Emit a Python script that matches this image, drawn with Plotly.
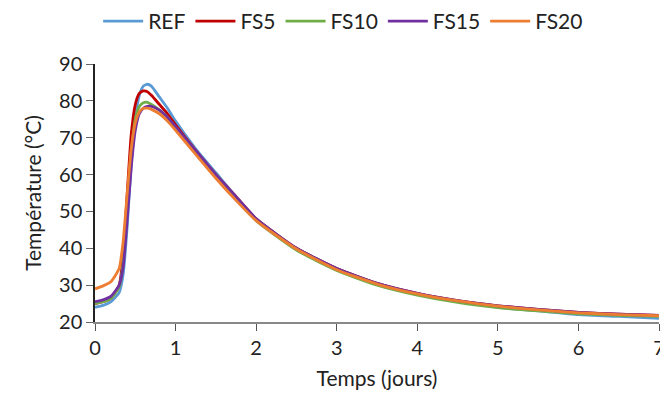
import plotly.graph_objects as go

# temps (jours)
temps = [0, 0.1, 0.2, 0.3, 0.35, 0.4, 0.45, 0.5, 0.55, 0.6, 0.65, 0.7, 0.8, 0.9, 1.0,
         1.25, 1.5, 1.75, 2, 2.5, 3, 3.5, 4, 4.5, 5, 5.5, 6, 6.5, 7]

ref = [24, 24.5, 25.5, 28, 33, 46, 63, 75, 81.5, 84, 84.5, 84, 81, 78, 74.5,
       67, 60.5, 54, 48, 40, 34.5, 30.5, 27.5, 25.5, 24, 23, 22, 21.5, 21]
fs5 = [25, 25.5, 26.5, 30, 38, 55, 71, 79, 82, 82.7, 82.5, 81.5, 79, 76.5, 73.5,
       66.5, 60, 54, 48, 40, 34.5, 30.5, 27.8, 25.8, 24.4, 23.4, 22.6, 22.1, 21.8]
fs10 = [25, 25.5, 26.5, 29.5, 36, 51, 66, 75, 78.5, 79.5, 79.6, 79, 77.5, 75.5, 72.5,
        66, 59.5, 53.5, 47.5, 39.5, 34, 30, 27.3, 25.3, 23.9, 23, 22.2, 21.8, 21.5]
fs15 = [25.5, 26, 27, 30, 35, 48, 62, 72, 76.5, 78, 78.5, 78.5, 77.5, 75.5, 73,
        66.5, 60, 54, 48, 40, 34.5, 30.5, 27.8, 25.8, 24.4, 23.4, 22.6, 22.1, 21.8]
fs20 = [29, 29.8, 31, 34.5, 42, 55, 67, 74, 77, 78, 78, 77.7, 76.5, 74.5, 72,
        65.5, 59, 53, 47.5, 39.8, 34.2, 30.3, 27.6, 25.7, 24.3, 23.3, 22.5, 22, 21.7]

series = [("REF", ref, "#5B9BD5"), ("FS5", fs5, "#C00000"), ("FS10", fs10, "#70AD47"),
          ("FS15", fs15, "#7030A0"), ("FS20", fs20, "#ED7D31")]

fig = go.Figure()
for nom, vals, col in series:
    fig.add_trace(go.Scatter(x=temps, y=vals, name=nom, mode="lines",
                             line=dict(color=col, width=2.8, shape="spline", smoothing=0.5)))

# la page html a une marge de 8px : figure un peu plus petite que la fenetre
fig.update_layout(
    width=660, height=397,
    margin=dict(l=87, r=9, t=56, b=83, autoexpand=False),
    plot_bgcolor="white", paper_bgcolor="white",
    font=dict(family="Lato", size=20, color="#222"),
    legend=dict(orientation="h", x=0.44, xanchor="center", y=1.165, yanchor="middle",
                font=dict(size=21), itemwidth=40, tracegroupgap=0),
)
fig.update_xaxes(range=[0, 7], dtick=1, showline=True, linecolor="#888", linewidth=1.5,
                 ticks="outside", ticklen=7, tickcolor="#555", showgrid=False, zeroline=False,
                 ticklabeloverflow="allow",
                 automargin=False, title=dict(text="Temps (jours)", standoff=14, font=dict(size=21)))
fig.update_yaxes(range=[20, 90], dtick=10, showline=True, linecolor="#222", linewidth=1.5,
                 ticks="outside", ticklen=7, tickcolor="#666", showgrid=False, zeroline=False,
                 automargin=False, title=dict(text="Température (°C)", standoff=12, font=dict(size=21)))

fig.write_html("out.html")
